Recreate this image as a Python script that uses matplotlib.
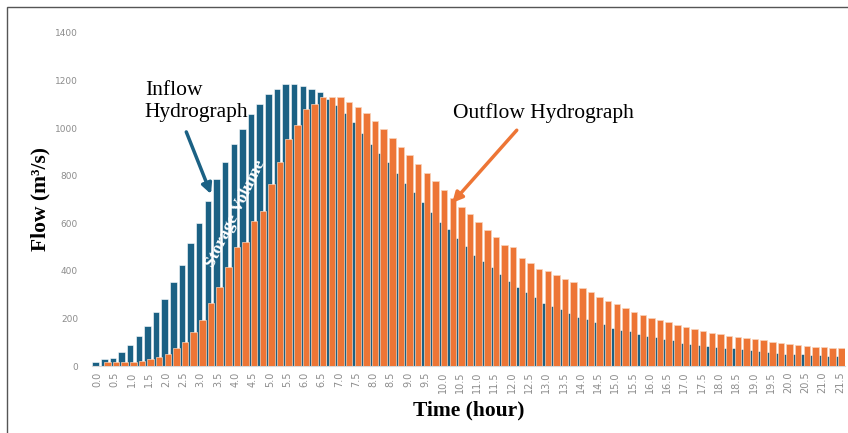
#!/usr/bin/env python3
# -*- coding: utf-8 -*-
"""Inflow / outflow hydrograph bar chart (reservoir routing)"""

import matplotlib
matplotlib.use("Agg")
import matplotlib.pyplot as plt
import numpy as np
from matplotlib.patches import Rectangle

# Time axis: one category every 0.25 h, labelled every 0.5 h
TIME_H = [i * 0.25 for i in range(87)]

INFLOW = [
    18, 28, 32, 60, 90, 127, 169, 226, 283, 353,
    425, 516, 603, 694, 786, 859, 933, 995, 1058, 1100,
    1142, 1164, 1184, 1184, 1178, 1164, 1150, 1121, 1097, 1065,
    1027, 981, 933, 894, 859, 810, 768, 730, 691, 649,
    607, 575, 537, 504, 467, 443, 415, 385, 357, 333,
    310, 291, 266, 252, 238, 222, 207, 198, 185, 175,
    160, 150, 146, 136, 126, 121, 112, 108, 98, 94,
    88, 84, 80, 76, 76, 70, 66, 62, 60, 56,
    52, 52, 50, 48, 46, 42, 42,
]

OUTFLOW = [
    0, 15, 15, 15, 16, 22, 28, 37, 50, 74,
    102, 144, 193, 264, 333, 417, 501, 522, 609, 651,
    764, 856, 953, 1013, 1080, 1103, 1129, 1129, 1129, 1108,
    1090, 1062, 1030, 995, 957, 919, 886, 849, 810, 779,
    742, 705, 670, 638, 604, 572, 541, 509, 499, 453,
    434, 409, 401, 381, 364, 353, 329, 310, 291, 272,
    259, 244, 228, 216, 202, 192, 184, 174, 164, 156,
    148, 140, 136, 127, 121, 116, 112, 108, 102, 98,
    94, 88, 84, 79, 79, 74, 74,
]

Y_TICKS = [0, 200, 400, 600, 800, 1000, 1200, 1400]

BLUE = '#1b6184'
ORANGE = '#ed7535'
SERIF = ['Liberation Serif', 'DejaVu Serif']


def main():
    fig = plt.figure(figsize=(8.48, 4.33), dpi=100)
    ax = fig.add_axes([92 / 848, 67 / 433, 753 / 848, 333 / 433])

    x = np.arange(len(TIME_H))
    ax.bar(x - 0.18, INFLOW, width=0.75, color=BLUE,
           edgecolor='white', linewidth=0.4, zorder=2)
    ax.bar(x + 0.18, OUTFLOW, width=0.75, color=ORANGE,
           edgecolor='#f8d3bb', linewidth=0.5, zorder=3)

    ax.set_xlim(-0.6, len(TIME_H) - 0.4)
    ax.set_ylim(0, 1400)

    ax.set_xticks(x[::2])
    ax.set_xticklabels([f'{t:.1f}' for t in TIME_H[::2]], rotation=90,
                       fontsize=7, color='#8c8c8c')
    ax.set_yticks(Y_TICKS)
    ax.set_yticklabels([str(v) for v in Y_TICKS], fontsize=6.5, color='#8c8c8c')
    ax.tick_params(axis='x', length=0, pad=4)
    ax.tick_params(axis='y', length=0, pad=10)

    for side in ['top', 'right', 'left']:
        ax.spines[side].set_visible(False)
    ax.spines['bottom'].set_color('#d9d9d9')

    ax.set_xlabel('Time (hour)', family=SERIF, fontsize=15.5,
                  fontweight='bold', labelpad=5)
    ax.set_ylabel('Flow (m³/s)', family=SERIF, fontsize=15.5,
                  fontweight='bold', labelpad=3)

    # Annotations
    ax.text(5.5, 1112, 'Inflow\nHydrograph', family=SERIF, fontsize=15.5,
            ha='left', va='center', linespacing=1.2, zorder=5)
    ax.annotate('', xy=(13.3, 712), xytext=(10.2, 995),
                arrowprops=dict(arrowstyle='-|>', color=BLUE, lw=2.5,
                                mutation_scale=15), zorder=5)

    ax.text(41.2, 1063, 'Outflow Hydrograph', family=SERIF, fontsize=15.5,
            ha='left', va='center', zorder=5)
    ax.annotate('', xy=(40.9, 677), xytext=(48.8, 1000),
                arrowprops=dict(arrowstyle='-|>', color=ORANGE, lw=2.5,
                                mutation_scale=15), zorder=5)

    ax.text(16.0, 640, 'Storage Volume', family=SERIF, fontsize=12.5,
            fontweight='bold', color='white', rotation=64,
            ha='center', va='center', zorder=6)

    # Outer frame of the chart area
    fig.patches.append(Rectangle((7 / 848, -0.05), 1.1, 1 - 7 / 433 + 0.05,
                                 transform=fig.transFigure, fill=False,
                                 edgecolor='#555555', linewidth=1.0))

    fig.savefig('out.png', dpi=100)
    plt.close(fig)


if __name__ == "__main__":
    main()
